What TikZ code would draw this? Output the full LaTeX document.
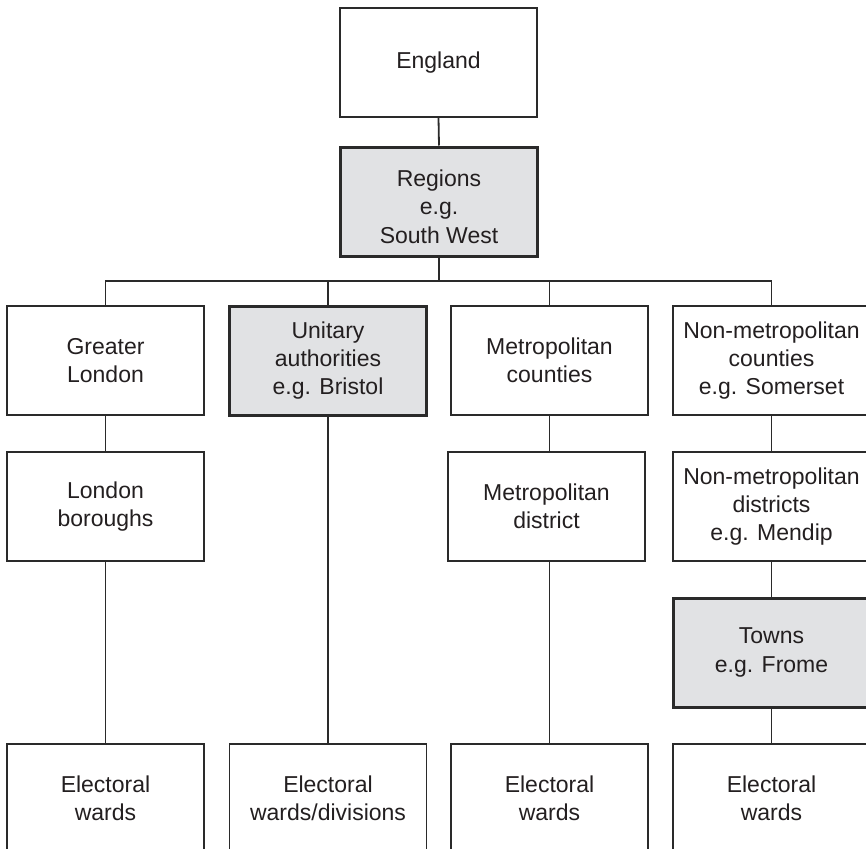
\documentclass[tikz,border=0pt]{standalone}
\usepackage{fontspec}
\setmainfont{Liberation Sans}
\definecolor{linec}{HTML}{2A2A2A}
\definecolor{textc}{HTML}{231F20}
\definecolor{shade}{HTML}{E1E2E4}
\tikzset{
  unit/.style={draw=linec, line width=1.8pt, fill=white,
    minimum width=197pt, minimum height=109pt, inner sep=0pt,
    align=center, text=textc, font=\fontsize{23}{28.3}\selectfont},
  tier/.style={unit, fill=shade, line width=3pt},
  link/.style={draw=linec, line width=1.8pt},
}
\begin{document}
\begin{tikzpicture}[x=1pt, y=-1pt]
  \useasboundingbox (0,0) rectangle (866,848);
  \clip (0,0) rectangle (866,848);

  % national and regional tiers
  \node[unit] (eng) at (438.5,62.5) {England};
  \node[tier] (reg) at (439,201.5) {\rule{0pt}{27pt}Regions\\e.g.\\South West};

  % first local tier
  \node[unit] (gl)  at (105.5,360.5) {Greater\\London};
  \node[tier] (ua)  at (328,360.5)   {Unitary\\authorities\\e.g. Bristol};
  \node[unit] (mc)  at (549.5,360.5) {Metropolitan\\counties};
  \node[unit] (nmc) at (771.5,360.5) {Non-metropolitan\\counties\\e.g. Somerset};

  % second local tier
  \node[unit] (lb)  at (105.5,506.5) {London\\boroughs};
  \node[unit] (md)  at (546.5,506.5) {Metropolitan\\district};
  \node[unit] (nmd) at (771.5,506.5) {Non-metropolitan\\districts\\e.g. Mendip};
  \node[tier] (twn) at (771.5,652.5) {Towns\\e.g. Frome};

  % electoral units
  \node[unit] (ew1) at (105.5,798.5) {Electoral\\wards};
  \node[unit] (ew2) at (328,798.5)   {Electoral\\wards/divisions};
  \node[unit] (ew3) at (549.5,798.5) {Electoral\\wards};
  \node[unit] (ew4) at (771.5,798.5) {Electoral\\wards};

  \coordinate (bus) at (439,281);

  % connectors
  \draw[link] (eng.south) -- (reg.north);
  \draw[link] (reg.south) -- (bus);
  \draw[link] (gl.north) |- (bus) -| (nmc.north);
  \draw[link] (ua.north) -- (ua.north |- bus);
  \draw[link] (mc.north) -- (mc.north |- bus);
  \draw[link] (gl.south) -- (lb.north);
  \draw[link] (lb.south) -- (ew1.north);
  \draw[link] (ua.south) -- (ew2.north);
  \draw[link] (mc.south) -- (mc.south |- md.north);
  \draw[link] (ew3.north |- md.south) -- (ew3.north);
  \draw[link] (nmc.south) -- (nmd.north);
  \draw[link] (nmd.south) -- (twn.north);
  \draw[link] (twn.south) -- (ew4.north);
\end{tikzpicture}
\end{document}
